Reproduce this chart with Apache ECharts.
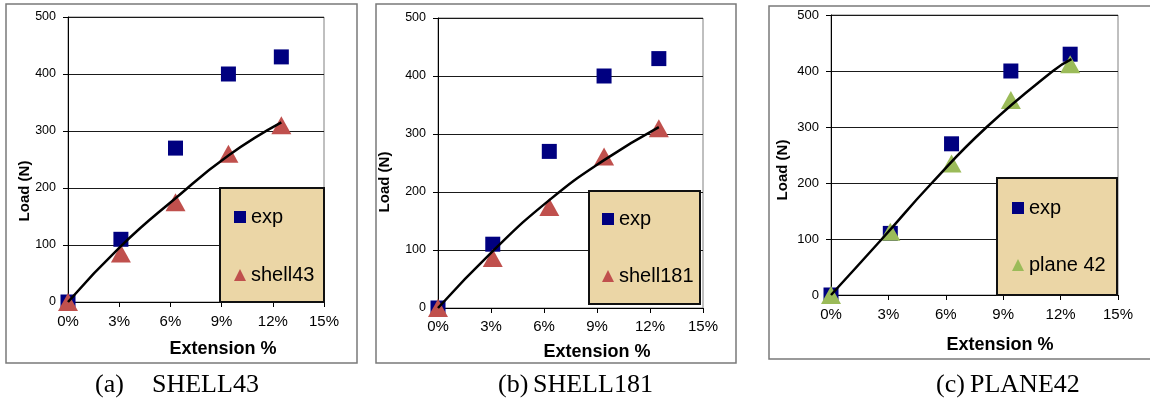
<!DOCTYPE html>
<html><head><meta charset="utf-8">
<script src="https://cdn.jsdelivr.net/npm/echarts@6/dist/echarts.min.js"></script>
<style>html,body{margin:0;padding:0;background:#fff}#c{width:1150px;height:403px}</style>
</head><body><div id="c"></div>
<script>
// ---- data ----
const extension = [0, 0.031, 0.063, 0.094, 0.125];
const expLoad = [0, 110, 270, 400, 430];
const shell43Load = [0, 85, 175, 260, 310];
const shell181Load = [0, 86, 174, 261, 310];
const plane42Load = [0, 113, 235, 348, 412];
const trendA_x = [0, 0.031, 0.063, 0.094, 0.125];
const trendA_y = [0, 98, 182, 257, 315];
const trendB_x = [0, 0.031, 0.063, 0.094, 0.125];
const trendB_y = [0, 98, 186, 255, 312];
const trendC_x = [0, 0.0266, 0.0527, 0.0814, 0.116, 0.1257];
const trendC_y = [0, 100, 200, 300, 400, 421];
const xTickLabels = ['0%', '3%', '6%', '9%', '12%', '15%'];
const yTicks = [0, 100, 200, 300, 400, 500];
const simNames = ['shell43', 'shell181', 'plane 42'];
const captionTags = ['(a)', '(b)', '(c)'];
const captionNames = ['SHELL43', 'SHELL181', 'PLANE42'];
const xTitle = 'Extension %';
const yTitle = 'Load (N)';

// ---- layout ----
const SANS = "'Liberation Sans', Arial, sans-serif";
const SERIF = "'Liberation Serif', 'Times New Roman', serif";
const grids = [
  {left: 68, top: 17, width: 256, height: 285},
  {left: 438, top: 18, width: 265, height: 290},
  {left: 831, top: 15, width: 287, height: 280}
];
const yLabelSize = [12.5, 12.5, 13];
const xLabelMargin = [12, 11.5, 12.5];
const simColors = ['#c0504d', '#c0504d', '#9bbb59'];
const simData = [shell43Load, shell181Load, plane42Load];
const trends = [[trendA_x, trendA_y], [trendB_x, trendB_y], [trendC_x, trendC_y]];
const frames = [
  {x: 6, y: 4, width: 351, height: 359},
  {x: 376, y: 4, width: 360, height: 359},
  {x: 769, y: 6, width: 420, height: 353}
];
const legendBoxes = [
  {x: 220, y: 188, width: 104, height: 114},
  {x: 589, y: 191, width: 111, height: 113},
  {x: 997, y: 178, width: 120, height: 117}
];
const legendPos = [
  {left: 234, top: 207, gap: 38},
  {left: 602, top: 209, gap: 37},
  {left: 1012, top: 198, gap: 37}
];
const yTitlePos = [[25, 191], [385, 182], [783, 170]];
const xTitlePos = [[223, 349], [597, 352], [1000, 345]];
const captionPos = [[95, 152], [498, 533], [936, 970]];

const xAxis = [], yAxis = [], series = [], legend = [], graphic = [];
for (let i = 0; i < 3; i++) {
  xAxis.push({
    type: 'value', gridIndex: i, min: 0, max: 0.15, interval: 0.03,
    axisLine: {show: true, lineStyle: {color: '#000', width: 1}},
    axisTick: {show: true, length: 5, lineStyle: {color: '#000'}},
    splitLine: {show: false},
    axisLabel: {
      margin: xLabelMargin[i], fontSize: 15, fontFamily: SANS, color: '#000',
      formatter: v => xTickLabels[Math.round(v / 0.03)]
    }
  });
  yAxis.push({
    type: 'value', gridIndex: i, min: yTicks[0], max: yTicks[yTicks.length - 1], interval: 100,
    axisLine: {show: true, lineStyle: {color: '#000', width: 1}},
    axisTick: {show: true, length: 5, lineStyle: {color: '#000'}},
    splitLine: {show: true, lineStyle: {color: '#1a1a1a', width: 1}},
    axisLabel: {margin: 12, fontSize: yLabelSize[i], fontFamily: SANS, color: '#000'}
  });
  series.push({
    name: 'exp', type: 'scatter', xAxisIndex: i, yAxisIndex: i,
    symbol: 'rect', symbolSize: 15,
    itemStyle: {color: '#000080', opacity: 1},
    data: extension.map((x, k) => [x, expLoad[k]]), z: 2
  });
  series.push({
    name: simNames[i], type: 'scatter', xAxisIndex: i, yAxisIndex: i,
    symbol: 'triangle', symbolSize: [20, 18],
    itemStyle: {color: simColors[i], opacity: 1},
    data: extension.map((x, k) => [x, simData[i][k]]), z: 3
  });
  series.push({
    name: 'trend' + i, type: 'line', xAxisIndex: i, yAxisIndex: i,
    smooth: true, showSymbol: false, symbol: 'none',
    lineStyle: {color: '#000', width: 2.5},
    data: trends[i][0].map((x, k) => [x, trends[i][1][k]]), z: 4,
    silent: true
  });
  legend.push({
    data: ['exp', simNames[i]], orient: 'vertical',
    left: legendPos[i].left, top: legendPos[i].top, itemGap: legendPos[i].gap,
    itemWidth: 12, itemHeight: 12, padding: 0, z: 60, selectedMode: false,
    textStyle: {fontSize: 20, lineHeight: 20, fontFamily: SANS, color: '#000'}
  });
  graphic.push({
    type: 'rect', z: -10, silent: true,
    shape: frames[i],
    style: {fill: 'none', stroke: '#7a7a7a', lineWidth: 1.5}
  });
  graphic.push({
    type: 'rect', z: 50, silent: true,
    shape: legendBoxes[i],
    style: {fill: '#ebd6a6', stroke: '#111', lineWidth: 2}
  });
  graphic.push({
    type: 'text', z: 50, silent: true, x: yTitlePos[i][0], y: yTitlePos[i][1], rotation: Math.PI / 2,
    style: {text: yTitle, font: 'bold 15px ' + SANS, fill: '#000',
      align: 'center', verticalAlign: 'middle', textAlign: 'center', textVerticalAlign: 'middle'}
  });
  graphic.push({
    type: 'text', z: 50, silent: true, x: xTitlePos[i][0], y: xTitlePos[i][1],
    style: {text: xTitle, font: 'bold 18px ' + SANS, fill: '#000',
      align: 'center', verticalAlign: 'middle', textAlign: 'center', textVerticalAlign: 'middle'}
  });
  graphic.push({
    type: 'text', z: 50, silent: true, x: captionPos[i][0], y: 385,
    style: {text: captionTags[i], font: '26px ' + SERIF, fill: '#000',
      align: 'left', verticalAlign: 'middle', textAlign: 'left', textVerticalAlign: 'middle'}
  });
  graphic.push({
    type: 'text', z: 50, silent: true, x: captionPos[i][1], y: 385,
    style: {text: captionNames[i], font: '26px ' + SERIF, fill: '#000',
      align: 'left', verticalAlign: 'middle', textAlign: 'left', textVerticalAlign: 'middle'}
  });
}

const chart = echarts.init(document.getElementById('c'), null, {renderer: 'canvas'});
chart.setOption({
  animation: false,
  backgroundColor: '#fff',
  grid: grids.map(g => Object.assign({show: true, borderColor: '#808080', borderWidth: 1, backgroundColor: 'transparent'}, g)),
  xAxis, yAxis, series, legend, graphic
});
</script></body></html>
